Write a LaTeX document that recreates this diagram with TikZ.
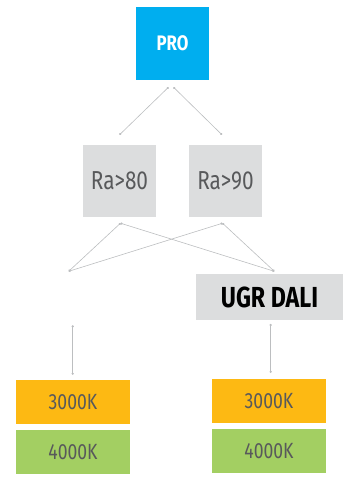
\documentclass[tikz,border=0pt]{standalone}
\usepackage{fontspec}
\setmainfont[FakeStretch=0.8]{Fira Sans}
\usepackage{xcolor}
\usetikzlibrary{arrows.meta, positioning, calc}
\definecolor{problue}{HTML}{00AEEF}
\definecolor{boxgray}{HTML}{DCDDDE}
\definecolor{warmorange}{HTML}{FDB913}
\definecolor{coolgreen}{HTML}{A3CF62}
\definecolor{txtgray}{HTML}{58595B}
\definecolor{lngray}{HTML}{BCBEC0}
\tikzset{
  blk/.style={
    rectangle, fill=#1, inner sep=0pt,
    minimum width=114pt, minimum height=44pt,
    text=txtgray, font=\fontsize{22}{22}\selectfont
  },
  sqblk/.style={
    rectangle, fill=boxgray, inner sep=0pt,
    minimum width=73pt, minimum height=72pt,
    text=txtgray, font=\fontsize{26}{26}\selectfont
  },
  lnk/.style={draw=lngray, line width=0.6pt,
    {Circle[length=2.2pt]}-{Circle[length=2.2pt]}}
}
\begin{document}
\begin{tikzpicture}[x=1pt, y=-1pt]
  \useasboundingbox (0,0) rectangle (351,477);

  \node[rectangle, fill=problue, minimum size=73pt, inner sep=0pt,
        text=white, font=\bfseries\fontsize{21}{21}\selectfont] (pro) at (172.5,43.5) {PRO};
  \node[sqblk] (ra80) at (119.5,181) {Ra>80};
  \node[sqblk] (ra90) at (225.5,181) {Ra>90};
  \node[rectangle, fill=boxgray, minimum width=147pt, minimum height=46pt, inner sep=0pt,
        text=black, font=\bfseries\fontsize{29}{29}\selectfont] (ugr) at (269.5,297) {UGR DALI};
  \node[blk=warmorange] (warmL) at (73,402)  {3000K};
  \node[blk=coolgreen]  (coolL) at (73,452)  {4000K};
  \node[blk=warmorange] (warmR) at (269,400.8) {3000K};
  \node[blk=coolgreen]  (coolR) at (269,450.8) {4000K};

  % anchor points of the links
  \coordinate (proL)  at ([xshift=-4pt, yshift=-7pt]pro.south);
  \coordinate (proR)  at ([xshift=1pt, yshift=-7pt]pro.south);
  \coordinate (ra80t) at ([yshift=10pt]ra80.north);
  \coordinate (ra90t) at ([xshift=-3.5pt, yshift=10pt]ra90.north);
  \coordinate (ra80b) at ([xshift=1pt, yshift=-6pt]ra80.south);
  \coordinate (ra90b) at ([xshift=-3pt, yshift=-6pt]ra90.south);
  \coordinate (split) at (68.7,271.3);
  \coordinate (ugrt)  at (274.3,271.3);
  \coordinate (splitb) at (72.7,325.3);
  \coordinate (ugrb)  at ([xshift=1.2pt, yshift=-3.7pt]ugr.south);

  \draw[lnk] (proL)  -- (ra80t);
  \draw[lnk] (proR)  -- (ra90t);
  \draw[lnk] (ra80b) -- (split);
  \draw[lnk] (ra80b) -- (ugrt);
  \draw[lnk] (ra90b) -- (split);
  \draw[lnk] (ra90b) -- (ugrt);
  \draw[lnk] (splitb) -- ([yshift=5pt]warmL.north -| splitb);
  \draw[lnk] (ugrb)  -- ([yshift=5.7pt]warmR.north -| ugrb);
\end{tikzpicture}
\end{document}
